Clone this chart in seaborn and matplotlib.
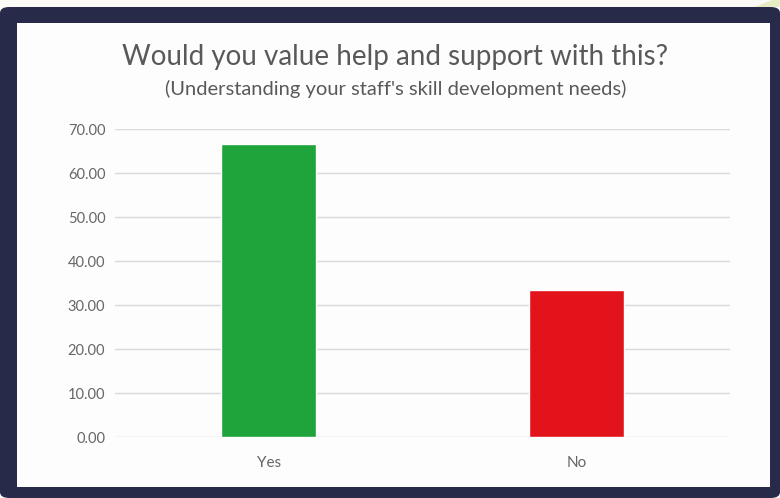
import matplotlib
matplotlib.use("Agg")
import matplotlib.pyplot as plt
from matplotlib.patches import FancyBboxPatch, Rectangle, Polygon
import seaborn as sns
import pandas as pd

categories = ["Yes", "No"]
values = [66.67, 33.33]
bar_colors = ["#1fa33b", "#e2131a"]
yticks = [0, 10, 20, 30, 40, 50, 60, 70]
title = "Would you value help and support with this?"
subtitle = "(Understanding your staff's skill development needs)"

sns.set_theme(style="white")
plt.rcParams['font.family'] = ['Lato', 'DejaVu Sans']

W, H = 780, 498
fig = plt.figure(figsize=(W / 100, H / 100), dpi=100)
fig.patch.set_facecolor("#fbfbf8")

def fx(x): return x / W
def fy(y): return 1 - y / H

# yellow-green corner
fig.patches.append(Polygon([[fx(755), fy(7)], [fx(780), fy(7)], [fx(780), fy(0)], [fx(772), fy(0)]],
                           closed=True, transform=fig.transFigure, facecolor="#e8ecc4", edgecolor="none", zorder=0))
# dark frame
fig.patches.append(FancyBboxPatch((fx(0), fy(498)), fx(780), (498 - 7) / H,
                                  boxstyle="round,pad=0,rounding_size=0.012",
                                  transform=fig.transFigure, facecolor="#272b49", edgecolor="none", zorder=0))
# inner white panel
fig.patches.append(Rectangle((fx(17), fy(487)), fx(770 - 17), (487 - 23) / H,
                             transform=fig.transFigure, facecolor="#fdfdfd", edgecolor="none", zorder=1))

ax = fig.add_axes([fx(115), fy(437), fx(730 - 115), (437 - 129) / H])
ax.set_zorder(5)
ax.set_facecolor("none")
df = pd.DataFrame({"category": categories, "value": values})
sns.barplot(data=df, x="category", y="value", hue="category", palette=bar_colors,
            width=0.31, legend=False, ax=ax, zorder=3, saturation=1)
ax.set_ylim(0, 70)
ax.set_xlim(-0.5, 1.5)
ax.set_yticks(yticks)
ax.set_yticklabels([f"{t:.2f}" for t in yticks])
ax.yaxis.grid(True, color="#d9d9d9", linewidth=1)
ax.set_axisbelow(True)
for s in ax.spines.values():
    s.set_visible(False)
ax.tick_params(axis="y", length=0, pad=7, labelsize=10.5, labelcolor="#666666")
ax.tick_params(axis="x", length=0, pad=14, labelsize=11, labelcolor="#666666")
ax.set_xlabel("")
ax.set_ylabel("")

fig.text(fx(395), fy(57), title, ha="center", va="center", fontsize=20, color="#595959", zorder=10)
fig.text(fx(396), fy(89), subtitle, ha="center", va="center", fontsize=14.5, color="#595959", zorder=10)

fig.savefig("out.png", dpi=100)
